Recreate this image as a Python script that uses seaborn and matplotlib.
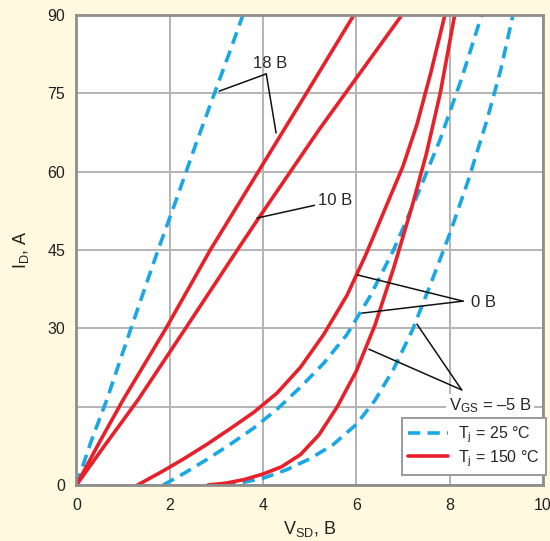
import pandas as pd
import matplotlib
matplotlib.use('Agg')
import matplotlib.pyplot as plt
import seaborn as sns
from matplotlib.lines import Line2D

# curve data: V_SD (V), I_D (A)
b18_v = [0, 0.3, 0.65, 1.17, 1.75, 2.14, 2.55, 2.96, 3.27, 3.57]
b18_i = [0, 8, 16.3, 30, 45, 54.6, 65, 75, 82.5, 90]
b0_v = [1.86, 2.3, 2.8, 3.3, 3.8, 4.3, 4.8, 5.3, 5.8, 6.3, 6.8, 7.3, 7.8, 8.25, 8.69]
b0_i = [0, 2.2, 4.9, 7.8, 10.9, 14.5, 18.7, 23.3, 28.8, 36.2, 45.0, 55.3, 66.2, 77.6, 90]
b5_v = [3.15, 3.6, 4.0, 4.5, 5.0, 5.5, 6.0, 6.4, 6.8, 7.2, 7.6, 8.0, 8.4, 8.8, 9.1, 9.36]
b5_i = [0, 0.55, 1.3, 2.9, 5.0, 7.7, 11.6, 16.2, 22.2, 29.6, 38.6, 48.0, 58.3, 69.8, 79.6, 90]

r18_v = [0, 0.5, 1.0, 1.92, 2.87, 3.9, 4.93, 5.95]
r18_i = [0, 8.3, 16.3, 30, 45, 60, 75, 90]
r10_v = [0, 0.6, 1.32, 2.34, 3.45, 3.9, 5.2, 6.98]
r10_i = [0, 7.5, 16.3, 30, 45, 51, 68, 90]
r0_v = [1.31, 1.8, 2.3, 2.8, 3.3, 3.8, 4.3, 4.8, 5.3, 5.8, 6.2, 6.6, 7.0, 7.3, 7.6, 7.9]
r0_i = [0, 2.4, 5.0, 7.8, 10.8, 13.9, 17.6, 22.5, 28.8, 36.3, 44.0, 52.5, 61, 69, 79, 90]
r5_v = [2.82, 3.2, 3.6, 4.0, 4.4, 4.8, 5.2, 5.6, 6.0, 6.4, 6.8, 7.2, 7.5, 7.8, 8.11]
r5_i = [0, 0.35, 1.05, 2.1, 3.5, 5.8, 9.6, 15.1, 21.8, 30.6, 41.5, 53.5, 63.3, 75, 90]

curves = [
    ('25', '18', b18_v, b18_i), ('25', '0', b0_v, b0_i), ('25', '-5', b5_v, b5_i),
    ('150', '18', r18_v, r18_i), ('150', '10', r10_v, r10_i),
    ('150', '0', r0_v, r0_i), ('150', '-5', r5_v, r5_i),
]

y_ticks = [0, 15, 30, 45, 60, 75, 90]
y_labels = ['0', '', '30', '45', '60', '75', '90']
x_ticks = [0, 2, 4, 6, 8, 10]

BLUE = '#1AA7E4'
RED = '#E8202A'
BG = '#FEF9DF'

rows = []
for tj, vgs, vs, ids in curves:
    for v, i in zip(vs, ids):
        rows.append({'Tj': tj, 'Vgs': vgs, 'V': v, 'I': i})
df = pd.DataFrame(rows)
df['curve'] = df['Tj'] + '_' + df['Vgs']

sns.set_style('white')
plt.rcParams['font.family'] = ['Liberation Sans', 'DejaVu Sans']
plt.rcParams['mathtext.fontset'] = 'custom'
plt.rcParams['mathtext.rm'] = 'Liberation Sans'
plt.rcParams['mathtext.it'] = 'Liberation Sans'

fig = plt.figure(figsize=(5.5, 5.41), dpi=100, facecolor=BG)
ax = fig.add_axes([0.139, 0.1035, 0.848, 0.869])
ax.set_facecolor('white')

sns.lineplot(data=df, x='V', y='I', hue='Tj', style='Tj', units='curve',
             estimator=None, sort=False, palette={'25': BLUE, '150': RED},
             dashes={'25': (3.4, 2.0), '150': ''}, linewidth=2.6,
             legend=False, ax=ax)

ax.set_xlim(0, 10)
ax.set_ylim(0, 90)
ax.set_xticks(x_ticks)
ax.set_yticks(y_ticks)
ax.set_yticklabels(y_labels)
ax.tick_params(length=0, labelsize=11.5, colors='#222222')
ax.tick_params(axis='x', pad=9)
ax.tick_params(axis='y', pad=8)
ax.grid(True, color='#b4b4b4', lw=1.4)
ax.set_axisbelow(True)
for s in ax.spines.values():
    s.set_color('#8e8e8e')
    s.set_linewidth(2)

ax.set_xlabel('V$_\\mathrm{SD}$, В', fontsize=13, color='#222222', labelpad=5)
ax.set_ylabel('I$_\\mathrm{D}$, А', fontsize=13, color='#222222', labelpad=12)

line_kw = dict(arrowstyle='-', color='#111111', lw=1.1, shrinkA=0, shrinkB=0)
FS = 12

# 18 V
ax.text(4.15, 80.6, '18 В', fontsize=FS, ha='center', va='center')
for tgt in [(3.06, 75.4), (4.28, 67.4)]:
    ax.annotate('', xy=tgt, xytext=(4.07, 78.7), arrowprops=line_kw)

# 10 V
ax.annotate('10 В', xy=(3.87, 51.1), xytext=(5.54, 54.4), fontsize=FS,
            ha='center', va='center',
            bbox=dict(boxstyle='square,pad=0.15', fc='white', ec='none'),
            arrowprops=dict(arrowstyle='-', color='#111111', lw=1.1, shrinkA=0, shrinkB=0))

# 0 V
ax.text(8.72, 34.9, '0 В', fontsize=FS, ha='center', va='center')
for tgt in [(6.03, 40.2), (6.12, 32.9)]:
    ax.annotate('', xy=tgt, xytext=(8.29, 35.2), arrowprops=line_kw)

# -5 V
ax.text(8.87, 15.2, 'V$_\\mathrm{GS}$ = –5 В', fontsize=FS, ha='center', va='center',
        bbox=dict(boxstyle='square,pad=0.15', fc='white', ec='none'))
for tgt in [(6.27, 26.0), (7.30, 30.8)]:
    ax.annotate('', xy=tgt, xytext=(8.26, 18.2), arrowprops=line_kw)

handles = [
    Line2D([], [], color=BLUE, lw=2.6, dashes=(3.4, 2.0)),
    Line2D([], [], color=RED, lw=2.6),
]
leg = ax.legend(handles, ['T$_\\mathrm{j}$ = 25 °C', 'T$_\\mathrm{j}$ = 150 °C'],
                loc='lower right', bbox_to_anchor=(1.006, 0.021), borderaxespad=0,
                fontsize=11.5, handlelength=2.5, handletextpad=0.6,
                labelspacing=0.2, borderpad=0.4, fancybox=False, framealpha=1)
leg.get_frame().set_edgecolor('#9a9a9a')
leg.get_frame().set_linewidth(1.4)

fig.savefig('out.png', dpi=100, facecolor=BG)
